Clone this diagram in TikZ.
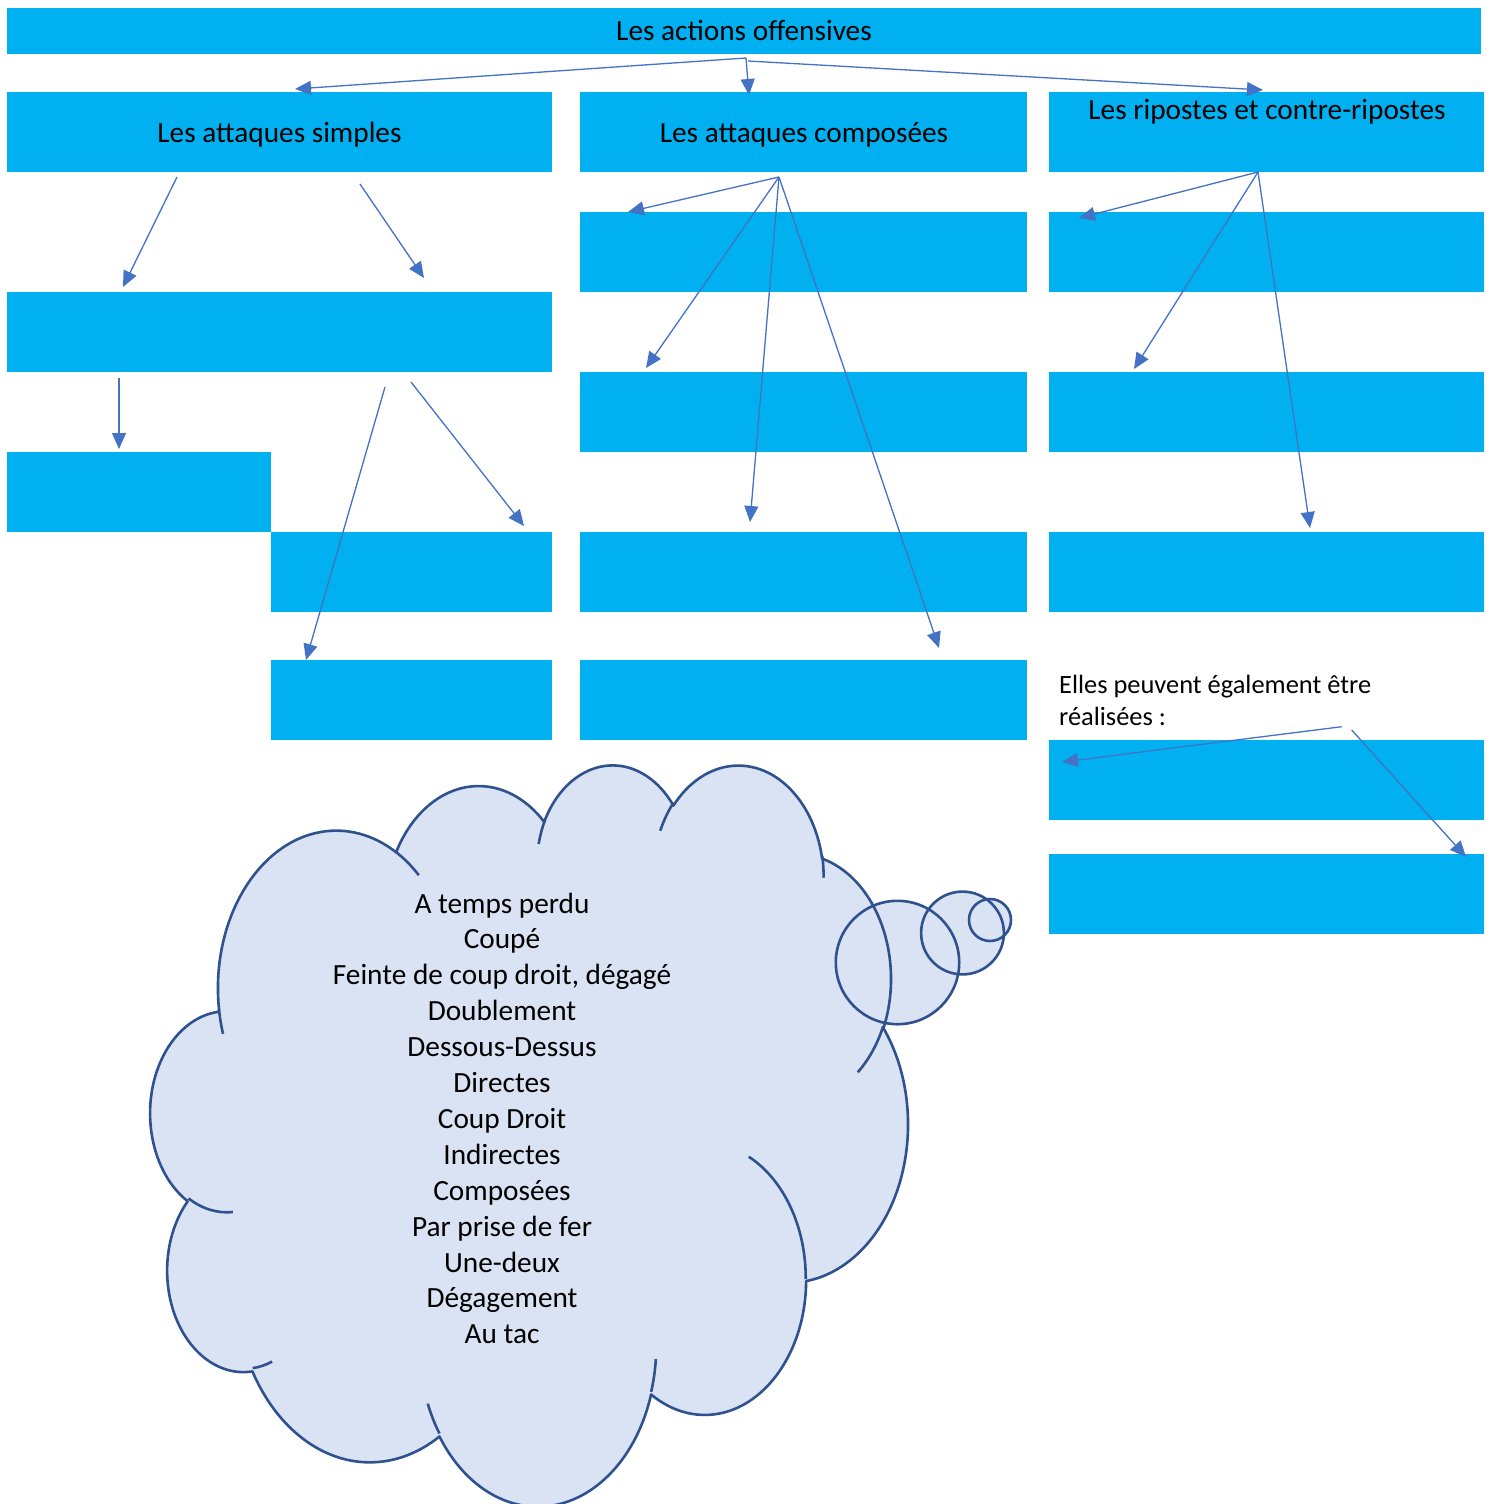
\documentclass[tikz,border=0pt]{standalone}
\usepackage{fontspec}
\setmainfont{Carlito}
\usetikzlibrary{arrows.meta}
\definecolor{boxblue}{HTML}{00B0F0}
\definecolor{arrowblue}{HTML}{4472C4}
\definecolor{cloudline}{HTML}{2F528F}
\definecolor{cloudfill}{HTML}{DAE3F3}
% OOXML-style arcTo: x radius, y radius, visual start angle, sweep (degrees)
\newcommand\ooarc[4]{%
 \pgfextra{%
  \pgfmathparse{atan2((#1)*sin(#3),(#2)*cos(#3))}\xdef\ooTa{\pgfmathresult}%
  \pgfmathparse{atan2((#1)*sin((#3)+(#4)),(#2)*cos((#3)+(#4)))}\xdef\ooTb{\pgfmathresult}%
  \pgfmathparse{(\ooTa)+mod((\ooTb)-(\ooTa)+720,360)}\xdef\ooTe{\pgfmathresult}%
 }%
 arc[start angle=\ooTa, end angle=\ooTe, x radius=#1, y radius=#2]}
\newcommand\cloudoutline{(39.00,143.70)
 \ooarc{67.53}{91.90}{-190.48748}{123.78053}
 \ooarc{53.33}{72.67}{-144.10238}{89.94523}
 \ooarc{43.65}{59.45}{-145.80792}{99.72302}
 \ooarc{48.57}{65.95}{-130.98607}{117.24173}
 \ooarc{53.33}{72.73}{-78.70888}{109.02692}
 \ooarc{67.75}{92.20}{-46.26725}{130.26900}
 \ooarc{57.85}{78.67}{0.62502}{114.03333}
 \ooarc{67.52}{92.15}{22.45160}{115.17255}
 \ooarc{77.20}{105.43}{66.24263}{75.71102}
 \ooarc{43.60}{59.18}{-274.94208}{146.73557}
 \ooarc{43.45}{59.45}{-246.82850}{152.51885}
 -- cycle}
\tikzset{
 box/.style={rectangle, fill=boxblue, draw=none, inner sep=0pt, outer sep=0pt, minimum height=80pt},
 ttl/.style={font=\fontsize{29.3}{35.9}\selectfont, inner sep=0pt, anchor=base},
 small/.style={font=\fontsize{26.4}{32}\selectfont, inner sep=0pt, anchor=base west},
 arr/.style={draw=arrowblue, line width=1.3pt, -{Triangle[length=16pt,width=14pt]}},
 cloudstroke/.style={draw=cloudline, line width=2.6pt},
}
\begin{document}
\begin{tikzpicture}[x=1pt,y=-1pt]
\useasboundingbox (0,0) rectangle (1494,1504);
\fill[white] (0,0) rectangle (1494,1504);
% boxes
\node[box, minimum width=1474pt, minimum height=46pt] (T) at (744,31) {};
\node[box, minimum width=545pt] (A) at (279.5,132) {};
\node[box, minimum width=447pt] (B) at (803.5,132) {};
\node[box, minimum width=435pt] (C) at (1266.5,132) {};
\node[box, minimum width=545pt] (A1) at (279.5,332) {};
\node[box, minimum width=264pt] (A2) at (139,492) {};
\node[box, minimum width=281pt] (A3) at (411.5,572) {};
\node[box, minimum width=281pt] (A4) at (411.5,700) {};
\node[box, minimum width=447pt] (B1) at (803.5,252) {};
\node[box, minimum width=447pt] (B2) at (803.5,412) {};
\node[box, minimum width=447pt] (B3) at (803.5,572) {};
\node[box, minimum width=447pt] (B4) at (803.5,700) {};
\node[box, minimum width=435pt] (C1) at (1266.5,252) {};
\node[box, minimum width=435pt] (C2) at (1266.5,412) {};
\node[box, minimum width=435pt] (C3) at (1266.5,572) {};
\node[box, minimum width=435pt] (C4) at (1266.5,780) {};
\node[box, minimum width=435pt] (C5) at (1266.5,894) {};
% titles
\node[ttl] (tT) at (744,41) {Les actions offensives};
\node[ttl] (tA) at (279.5,142.3) {Les attaques simples};
\node[ttl] (tB) at (804,142.3) {Les attaques composées};
\node[ttl] (tC) at (1267,119.3) {Les ripostes et contre-ripostes};
\node[small] (e1) at (1059,693.3) {Elles peuvent également être};
\node[small] (e2) at (1059,725) {réalisées :};
% connector end points
\coordinate (oT1) at (746,58);
\coordinate (oT2) at (748,61);
\coordinate (pA) at (295,89);
\coordinate (pB) at (749,95);
\coordinate (pC) at (1263,90);
\coordinate (sA1) at (177,177);   \coordinate (eA1) at (123,287);
\coordinate (sA2) at (360,184);   \coordinate (eA2) at (424,278);
\coordinate (sA3) at (119,378);   \coordinate (eA3) at (119,449);
\coordinate (sA4) at (385,387);   \coordinate (eA4) at (306,660);
\coordinate (sA5) at (411,382);   \coordinate (eA5) at (524,526);
\coordinate (oB) at (779,177);
\coordinate (eB1) at (628,212);
\coordinate (eB2) at (646,368);
\coordinate (eB3) at (750,522);
\coordinate (eB4) at (939,648);
\coordinate (oC) at (1258,172);
\coordinate (eC1) at (1079,218);
\coordinate (eC2) at (1134,369);
\coordinate (eC3) at (1310,528);
\coordinate (sE1) at (1341.7,726.7); \coordinate (eE1) at (1062,762);
\coordinate (sE2) at (1351.7,730);   \coordinate (eE2) at (1466,857);
% connectors
\draw[arr] (oT1) -- (pA);
\draw[arr] (oT1) -- (pB);
\draw[arr] (oT2) -- (pC);
\draw[arr] (sA1) -- (eA1);
\draw[arr] (sA2) -- (eA2);
\draw[arr] (sA3) -- (eA3);
\draw[arr] (sA4) -- (eA4);
\draw[arr] (sA5) -- (eA5);
\draw[arr] (oB) -- (eB1);
\draw[arr] (oB) -- (eB2);
\draw[arr] (oB) -- (eB3);
\draw[arr] (oB) -- (eB4);
\draw[arr] (oC) -- (eC1);
\draw[arr] (oC) -- (eC2);
\draw[arr] (oC) -- (eC3);
\draw[arr] (sE1) -- (eE1);
\draw[arr] (sE2) -- (eE2);
% thought cloud
\begin{scope}[shift={(150.7,763)}, x=1.7523pt, y=-1.7153pt]
 \fill[cloudfill] \cloudoutline;
\end{scope}
\fill[cloudfill] (897.5,962.5) circle[radius=61.7];
\fill[cloudfill] (962.5,933) circle[radius=41.4];
\fill[cloudfill] (990,920) circle[radius=21];
\begin{scope}[shift={(150.7,763)}, x=1.7523pt, y=-1.7153pt]
 \draw[cloudstroke, line join=round] \cloudoutline;
 \draw[cloudstroke]
  (46.93,261.77) \ooarc{43.45}{59.45}{86.74200}{26.42950}
  (69.28,348.99) \ooarc{43.60}{59.18}{73.61047}{11.44747}
  (164.78,390.90) \ooarc{67.52}{92.15}{137.62415}{14.08110}
  (288.27,347.51) \ooarc{67.52}{92.15}{6.45327}{15.99835}
  (341.29,229.54) \ooarc{57.85}{78.67}{-70.29235}{70.91737}
  (417.98,153.54) \ooarc{53.33}{72.73}{30.31803}{27.75150}
  (383.24,54.26) \ooarc{48.57}{65.95}{-13.74433}{14.85890}
  (290.78,39.52) \ooarc{48.57}{65.95}{-149.18145}{18.19537}
  (221.41,47.20) \ooarc{43.65}{59.45}{-163.49427}{17.68635}
  (140.00,51.92) \ooarc{67.53}{91.90}{-66.70695}{12.31935}
  (41.27,157.89) \ooarc{67.53}{91.90}{157.65435}{11.85817};
\end{scope}
\draw[cloudstroke] (897.5,962.5) circle[radius=61.7];
\draw[cloudstroke] (962.5,933) circle[radius=41.4];
\draw[cloudstroke] (990,920) circle[radius=21];
% cloud text
\node[ttl] (c1) at (502,913) {A temps perdu};
\node[ttl] (c2) at (502,948.9) {Coupé};
\node[ttl] (c3) at (502,984.8) {Feinte de coup droit, dégagé};
\node[ttl] (c4) at (502,1020.7) {Doublement};
\node[ttl] (c5) at (502,1056.6) {Dessous-Dessus};
\node[ttl] (c6) at (502,1092.5) {Directes};
\node[ttl] (c7) at (502,1128.4) {Coup Droit};
\node[ttl] (c8) at (502,1164.3) {Indirectes};
\node[ttl] (c9) at (502,1200.2) {Composées};
\node[ttl] (c10) at (502,1236.1) {Par prise de fer};
\node[ttl] (c11) at (502,1272) {Une-deux};
\node[ttl] (c12) at (502,1307.9) {Dégagement};
\node[ttl] (c13) at (502,1343.8) {Au tac};
\end{tikzpicture}
\end{document}
